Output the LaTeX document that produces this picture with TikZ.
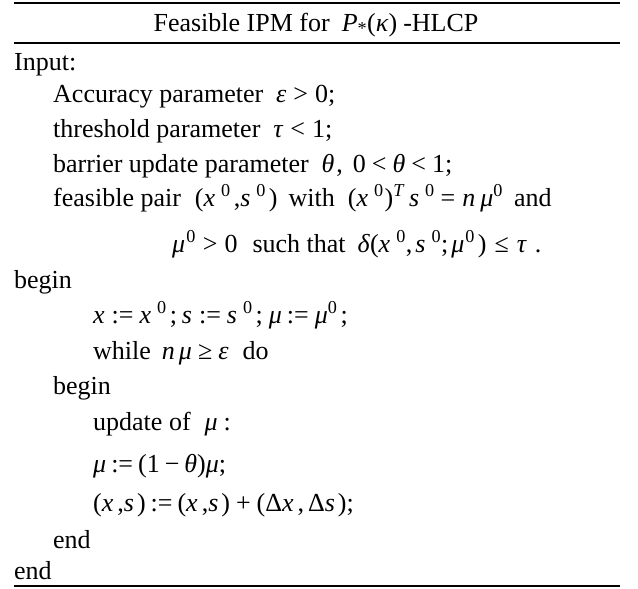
\documentclass[tikz,border=0pt]{standalone}
\usepackage{fontspec}
\setmainfont{Liberation Serif}

\newcommand{\zsup}{\textsuperscript{0}}
\newcommand{\vi}[1]{\textit{#1}}
\newcommand{\hsk}[1]{\hspace{#1pt}}

\begin{document}
\begin{tikzpicture}[
    x=1pt,
    y=-1pt,
    rule/.style={
        line width=2.5pt,
        },
    algline/.style={
        anchor=base west,
        inner sep=0pt,
        font=\fontsize{26}{30}\selectfont,
        },
    algtitle/.style={
        anchor=base,
        inner sep=0pt,
        font=\fontsize{26}{30}\selectfont,
        },
    ]

    \useasboundingbox (0,0) rectangle (638,589);

    \coordinate (top west) at (14,3);
    \coordinate (top east) at (620,3);
    \coordinate (head west) at (14,43);
    \coordinate (head east) at (620,43);
    \coordinate (foot west) at (14,586);
    \coordinate (foot east) at (620,586);

    \draw [rule] (top west) -- (top east);
    \draw [rule] (head west) -- (head east);
    \draw [rule] (foot west) -- (foot east);

    \node [algtitle] (title) at (316,31) {Feasible IPM for\hsk{12}\vi{P}\textsubscript{*}(\vi{κ})\hsk{6}-HLCP};

    \node [algline] (input) at (14,70) {Input:};
    \node [algline] (acc) at (53,102) {Accuracy parameter\hsk{13}\vi{ε}\hsk{7}>\hsk{7}0;};
    \node [algline] (thr) at (53,137) {threshold parameter\hsk{13}\vi{τ}\hsk{7}<\hsk{7}1;};
    \node [algline] (bar) at (53,172) {barrier update parameter\hsk{13}\vi{θ}\hsk{2},\hsk{10}0\hsk{6}<\hsk{6}\vi{θ}\hsk{6}<\hsk{6}1;};
    \node [algline] (pair) at (53,206) {feasible pair\hsk{14}(\vi{x}\hsk{6}\zsup\hsk{3},\vi{s}\hsk{6}\zsup\hsk{3})\hsk{11}with\hsk{13}(\vi{x}\hsk{6}\zsup\hsk{1})\textsuperscript{\vi{T}}\hsk{4}\vi{s}\hsk{6}\zsup\hsk{6}=\hsk{7}\vi{n}\hsk{5}\vi{μ}\zsup\hsk{11}and};
    \node [algline] (mu0) at (172,252) {\vi{μ}\hsk{1}\zsup\hsk{7}>\hsk{7}0\hsk{15}such that\hsk{12}\vi{δ}(\vi{x}\hsk{6}\zsup,\hsk{3}\vi{s}\hsk{6}\zsup;\hsk{3}\vi{μ}\hsk{1}\zsup\hsk{3})\hsk{8}≤\hsk{8}\vi{τ}\hsk{8}.};

    \node [algline] (begin) at (14,288) {begin};
    \node [algline] (init) at (93,323) {\vi{x}\hsk{7}:=\hsk{6}\vi{x}\hsk{6}\zsup\hsk{3};\hsk{5}\vi{s}\hsk{7}:=\hsk{6}\vi{s}\hsk{6}\zsup\hsk{3};\hsk{6}\vi{μ}\hsk{5}:=\hsk{6}\vi{μ}\zsup\hsk{3};};
    \node [algline] (while) at (93,359) {while\hsk{11}\vi{n}\hsk{4}\vi{μ}\hsk{6}≥\hsk{6}\vi{ε}\hsk{14}do};
    \node [algline] (ibegin) at (53,394) {begin};
    \node [algline] (upd) at (93,430) {update of\hsk{14}\vi{μ}\hsk{6}:};
    \node [algline] (mustep) at (93,472) {\vi{μ}\hsk{5}:=\hsk{5}(1\hsk{5}−\hsk{5}\vi{θ})\vi{μ};};
    \node [algline] (xsstep) at (93,511) {(\vi{x}\hsk{4},\vi{s}\hsk{3})\hsk{5}:=\hsk{5}(\vi{x}\hsk{4},\vi{s}\hsk{3})\hsk{6}+\hsk{6}(Δ\vi{x}\hsk{4},\hsk{4}Δ\vi{s}\hsk{3});};
    \node [algline] (iend) at (53,548) {end};
    \node [algline] (end) at (14,579) {end};

\end{tikzpicture}
\end{document}
